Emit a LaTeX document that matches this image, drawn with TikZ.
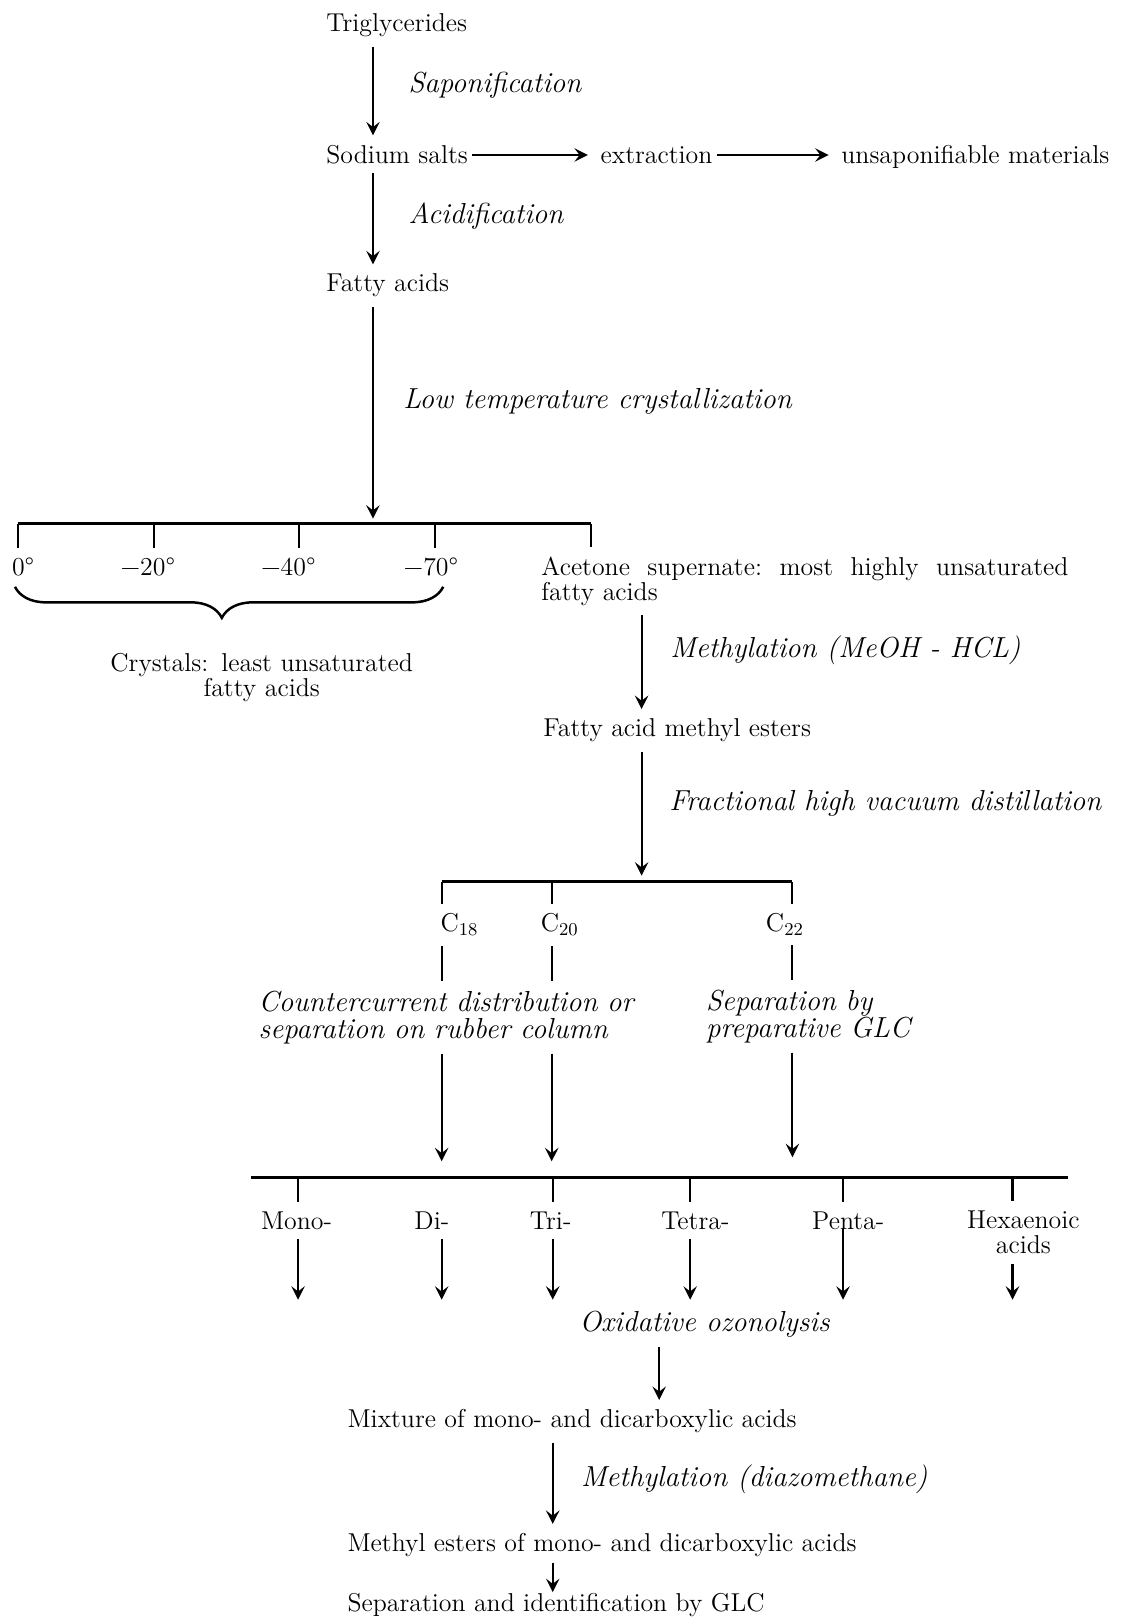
\documentclass[tikz,border=0pt]{standalone}
\usepackage{fontspec}
\usetikzlibrary{arrows.meta,decorations.pathreplacing}
\tikzset{
  txt/.style={inner xsep=0pt, inner ysep=4.5pt, anchor=base west,
    font=\fontsize{12.5}{12.2}\selectfont},
  mid/.style={txt, anchor=base},
  proc/.style={txt, font=\fontsize{14}{13}\selectfont\itshape},
  arr/.style={line width=1pt, -{Stealth[length=6.5pt,width=6.5pt,inset=2.5pt]}},
  bar/.style={line width=1.6pt},
  tick/.style={line width=1pt}
}
\begin{document}
\begin{tikzpicture}[x=0.5pt,y=-0.5pt]
  \useasboundingbox (0,0) rectangle (1088,1568);
  \coordinate (s1) at (361,0);
  \coordinate (s2) at (621,0);
  \coordinate (s3) at (638,0);
  \coordinate (s4) at (535,0);
  \draw
    (315.5,30.7) node[txt] (trig){Triglycerides}
    (395,90) node[proc] (sapon){Saponification}
    (315.5,158) node[txt] (sodium){Sodium salts}
    (581,158) node[txt] (extr){extraction}
    (814,158) node[txt] (unsap){unsaponifiable materials}
    (395,216) node[proc] (acidif){Acidification}
    (315.5,282.6) node[txt] (fatty){Fatty acids}
    (390,395) node[proc] (lowtemp){Low temperature crystallization}
    (11.3,556.6) node[txt] (t0){0°}
    (143,556.6) node[mid] (t20){−20°}
    (279,556.6) node[mid] (t40){−40°}
    (417,556.6) node[mid] (t70){−70°}
    (523.7,556.6) node[txt, text width=262pt, align=left] (acet)
      {\makebox[255pt][l]{Acetone\hfill supernate:\hfill most\hfill highly\hfill unsaturated}\\fatty acids}
    (253.3,650) node[mid, text width=160pt, align=center] (crys)
      {Crystals: least unsaturated\\fatty acids}
    (648.5,636) node[proc] (methA){Methylation (MeOH - HCL)}
    (525.6,713) node[txt] (fame){Fatty acid methyl esters}
    (647.6,784) node[proc] (fract){Fractional high vacuum distillation}
    (426,902) node[txt] (c18){C\textsubscript{18}}
    (523,902) node[txt] (c20){C\textsubscript{20}}
    (741,902) node[txt] (c22){C\textsubscript{22}}
    (250,979) node[proc, text width=200pt, align=left] (ccd)
      {Countercurrent distribution or\\separation on rubber column}
    (683,978) node[proc, text width=110pt, align=left] (sepby)
      {Separation by\\preparative GLC}
    (287,1190) node[mid] (mono){Mono-}
    (418,1190) node[mid] (di){Di-}
    (533,1190) node[mid] (tri){Tri-}
    (673,1190) node[mid] (tetra){Tetra-}
    (821,1190) node[mid] (penta){Penta-}
    (990.5,1189) node[mid, text width=60pt, align=center] (hexa){Hexaenoic\\acids}
    (560.5,1289) node[proc] (oxid){Oxidative ozonolysis}
    (336,1382) node[txt] (mix){Mixture of mono- and dicarboxylic acids}
    (562,1439) node[proc] (methB){Methylation (diazomethane)}
    (336,1502) node[txt] (mest){Methyl esters of mono- and dicarboxylic acids}
    (336,1560) node[txt] (sepglc){Separation and identification by GLC};
  \coordinate (b0) at (17,507);
  \coordinate (b20) at (149,507);
  \coordinate (b40) at (289,507);
  \coordinate (b70) at (421,507);
  \coordinate (bacet) at (572,507);
  \coordinate (m18) at (427.5,853.5);
  \coordinate (m20) at (534,853.5);
  \coordinate (m22) at (767,853.5);
  \coordinate (q0) at (243,1140);
  \coordinate (qm) at (288.5,1140);
  \coordinate (qt) at (535,1140);
  \coordinate (qte) at (668,1140);
  \coordinate (qp) at (816,1140);
  \coordinate (qh) at (980,1140);
  \coordinate (q1) at (1034,1140);
  \coordinate (oz) at (0,1258);
  \coordinate (bl) at (14.5,568);
  \coordinate (br) at (429,568);
  \draw[bar] (b0) -- (bacet);
  \draw[bar] (m18) -- (m22);
  \draw[bar] (q0) -- (q1);
  \begin{scope}[tick]
    \draw (b0) -- (b0 |- t0.north);
    \draw (b20) -- (b20 |- t20.north);
    \draw (b40) -- (b40 |- t40.north);
    \draw (b70) -- (b70 |- t70.north);
    \draw (bacet) -- (bacet |- acet.north);
    \draw (m18) -- (m18 |- c18.north);
    \draw (m20) -- (m20 |- c20.north);
    \draw (m22) -- (m22 |- c22.north);
    \draw (c18.south -| m18) -- (ccd.north -| m18);
    \draw (c20.south -| m20) -- (ccd.north -| m20);
    \draw (c22.south -| m22) -- (sepby.north -| m22);
    \draw (qm) -- (qm |- mono.north);
    \draw (qt) -- (qt |- tri.north);
    \draw (qte) -- (qte |- tetra.north);
    \draw (qp) -- (qp |- penta.north);
    \draw (qh) -- (qh |- hexa.north);
  \end{scope}
  \draw[line width=1.2pt, decorate,
    decoration={brace, mirror, amplitude=15pt, aspect=0.483}] (bl) -- (br);
  \begin{scope}[arr]
    \draw (trig.south -| s1) to (sodium.north -| s1);
    \draw (sodium.south -| s1) to (fatty.north -| s1);
    \draw[shorten >=2.5pt] (fatty.south -| s1) to (s1 |- b0);
    \draw[shorten <=2pt, shorten >=6pt] ([yshift=4pt]sodium.base east) to ([yshift=4pt]extr.base west);
    \draw[shorten <=2pt, shorten >=6pt] ([yshift=4pt]extr.base east) to ([yshift=4pt]unsap.base west);
    \draw (acet.south -| s2) to (fame.north -| s2);
    \draw[shorten >=3pt] (fame.south -| s2) to (s2 |- m18);
    \draw[shorten >=8pt] (ccd.south -| m18) to (m18 |- q0);
    \draw[shorten >=8pt] (ccd.south -| m20) to (m20 |- q0);
    \draw[shorten >=10pt] (sepby.south -| m22) to (m22 |- q0);
    \draw (mono.south -| qm) to (qm |- oz);
    \draw (di.south -| m18) to (m18 |- oz);
    \draw (tri.south -| qt) to (qt |- oz);
    \draw (tetra.south -| qte) to (qte |- oz);
    \draw (penta.base -| qp) to (qp |- oz);
    \draw (hexa.south -| qh) to (qh |- oz);
    \draw (oxid.south -| s3) to (mix.north -| s3);
    \draw (mix.south -| s4) to (mest.north -| s4);
    \draw[shorten <=-2pt, shorten >=-4pt] (mest.south -| s4) to (sepglc.north -| s4);
  \end{scope}
\end{tikzpicture}
\end{document}
